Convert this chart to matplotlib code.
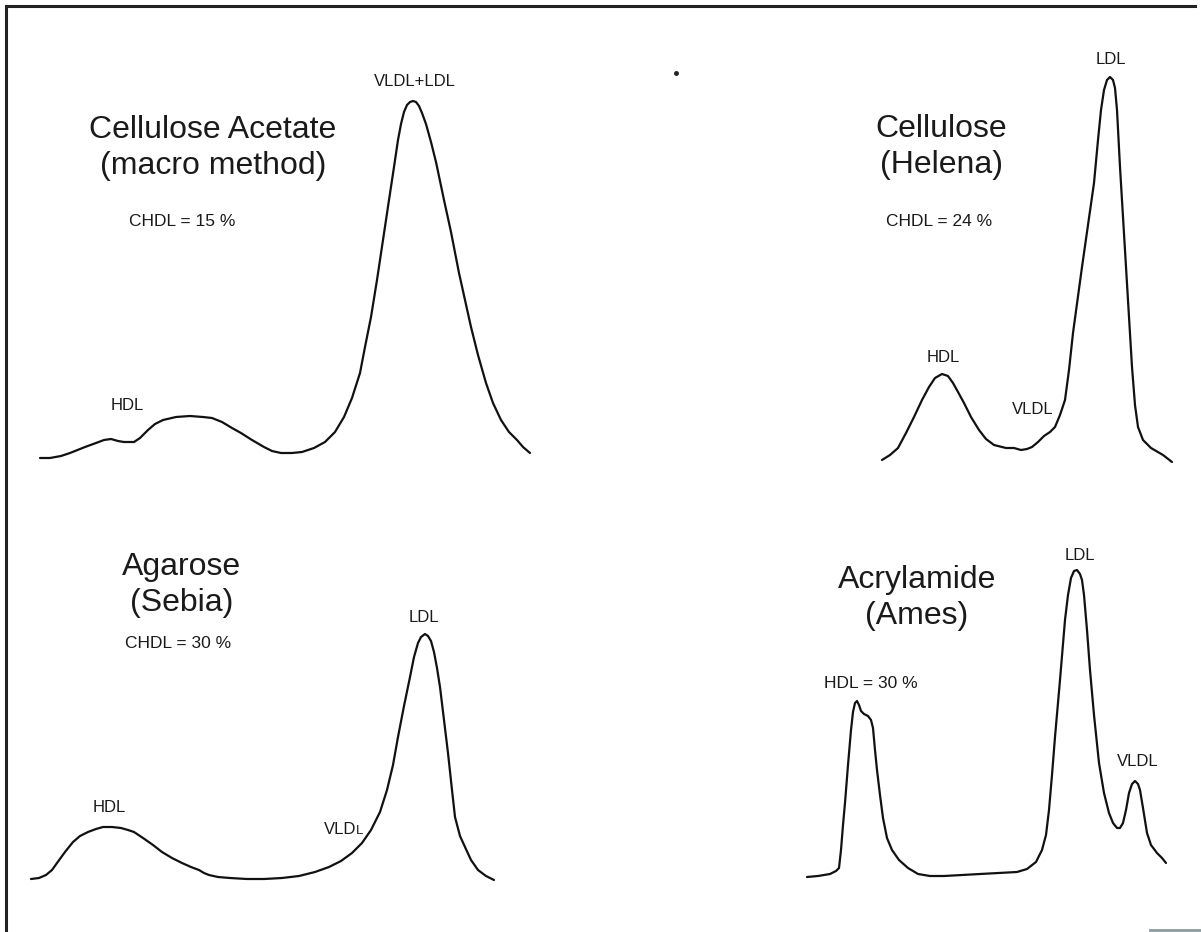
import matplotlib
matplotlib.use("Agg")
import matplotlib.pyplot as plt

plt.rcParams['font.family'] = ['Liberation Sans', 'DejaVu Sans']

# ---- trace data (page coordinates: x to the right, y downward) ----
acetate_x = [40, 50, 61, 70, 85, 96, 104, 111, 118, 124, 134, 140, 148, 155, 163, 176, 190, 203,
             212, 222, 232, 241, 252, 264, 272, 281, 292, 302, 314, 325, 335, 344, 352, 360, 365,
             371, 377, 383, 389, 394, 398, 401, 404, 407, 410, 413, 416, 419, 422, 426, 431, 436,
             444, 451, 459, 465, 471, 478, 486, 493, 501, 509, 517, 523, 530]
acetate_y = [458, 458, 456, 453, 447, 443, 440, 439, 441, 442, 442, 438, 430, 424, 420, 417, 416, 417,
             418, 422, 428, 433, 440, 447, 451, 453, 453, 452, 448, 442, 432, 417, 398, 373, 347,
             317, 280, 240, 200, 167, 140, 124, 112, 105, 102, 101, 102, 106, 113, 124, 142, 162,
             200, 232, 273, 300, 327, 355, 383, 403, 420, 432, 440, 447, 453]

helena_x = [882, 890, 898, 906, 914, 922, 929, 935, 942, 948, 953, 958, 964, 971, 979, 986, 994,
            1006, 1014, 1021, 1027, 1032, 1038, 1044, 1050, 1055, 1060, 1065, 1069, 1073, 1082,
            1088, 1094, 1098, 1101, 1104, 1107, 1110, 1113, 1115, 1117, 1120, 1126, 1132, 1135,
            1138, 1143, 1151, 1163, 1172]
helena_y = [460, 455, 448, 433, 417, 400, 387, 378, 374, 376, 383, 392, 403, 417, 430, 439, 445,
            448, 448, 450, 449, 447, 442, 436, 432, 427, 415, 400, 370, 333, 267,
            225, 183, 140, 110, 90, 80, 77, 80, 88, 110, 167, 267, 367, 405,
            427, 440, 448, 455, 462]

agarose_x = [31, 39, 46, 52, 57, 65, 73, 80, 88, 96, 103, 112, 121, 128, 134, 143, 153, 162, 172,
             182, 191, 199, 204, 209, 218, 230, 247, 264, 282, 299, 315, 329, 341, 352, 362, 371,
             380, 387, 393, 398, 404, 410, 414, 418, 421, 425, 428, 431, 434, 437, 440, 444, 448,
             452, 455, 460, 465, 471, 478, 486, 494]
agarose_y = [879, 878, 875, 870, 863, 852, 842, 836, 832, 829, 827, 827, 828, 830, 832, 838, 845,
             852, 858, 863, 867, 870, 873, 875, 877, 878, 879, 879, 878, 876, 872, 867, 861, 853,
             843, 830, 812, 790, 765, 737, 706, 677, 657, 643, 637, 634, 636, 641, 652, 668, 687,
             720, 753, 790, 817, 836, 847, 860, 870, 876, 880]

ames_x = [807, 818, 830, 836, 839, 841, 843, 845, 848, 851, 853, 855, 857, 859, 861, 864, 868, 871,
          873, 875, 877, 880, 883, 887, 892, 899, 908, 918, 930, 944, 980, 1017, 1027, 1036, 1042,
          1046, 1049, 1052, 1055, 1060, 1065, 1068, 1071, 1074, 1077, 1080, 1082, 1084, 1087,
          1090, 1094, 1099, 1104, 1109, 1113, 1117, 1120, 1123, 1126, 1129, 1132, 1135, 1138,
          1140, 1143, 1147, 1151, 1157, 1162, 1166]
ames_y = [877, 876, 874, 871, 868, 850, 825, 803, 765, 730, 712, 703, 701, 705, 711, 714, 716, 720,
          728, 750, 770, 795, 818, 838, 850, 860, 868, 874, 876, 876, 874, 872, 869, 862, 850,
          835, 810, 775, 737, 680, 620, 595, 578, 571, 570, 574, 580, 595, 630,
          670, 715, 763, 793, 813, 823, 828, 828, 823, 810, 793, 784, 781, 784,
          790, 808, 833, 845, 853, 858, 863]

# ---- text ----
titles = [("Cellulose Acetate\n(macro method)", 213, 148),
          ("Cellulose\n(Helena)", 941, 147),
          ("Agarose\n(Sebia)", 182, 585),
          ("Acrylamide\n(Ames)", 917, 598)]
values = [("CHDL = 15 %", 182, 221),
          ("CHDL = 24 %", 939, 222),
          ("CHDL = 30 %", 178, 643),
          ("HDL = 30 %", 871, 684)]
peak_labels = [("VLDL+LDL", 415, 81), ("HDL", 127, 405),
               ("LDL", 1111, 60), ("HDL", 943, 358), ("VLDL", 1033, 410),
               ("LDL", 424, 618), ("HDL", 109, 808),
               ("LDL", 1080, 555), ("VLDL", 1138, 761)]

W, H = 1201, 932
fig = plt.figure(figsize=(W / 100, H / 100), dpi=100)
ax = fig.add_axes([0, 0, 1, 1])
ax.set_xlim(0, W)
ax.set_ylim(H, 0)
ax.axis('off')

for xs, ys in [(acetate_x, acetate_y), (helena_x, helena_y),
               (agarose_x, agarose_y), (ames_x, ames_y)]:
    ax.plot(xs, ys, color='#111111', lw=1.6, solid_joinstyle='round', solid_capstyle='round')

# frame (top and left edges of the scanned page)
ax.plot([6, 6, 1195], [932, 6, 6], color='#222222', lw=2.2, solid_joinstyle='miter')
ax.plot([1150, 1201], [930, 930], color='#8a9aa0', lw=2)
ax.plot([676], [73], marker='o', ms=2.5, color='#222222')

for txt, x, y in titles:
    ax.text(x, y, txt, ha='center', va='center', fontsize=23, color='#1a1a1a',
            linespacing=1.3)
for txt, x, y in values:
    ax.text(x, y, txt, ha='center', va='center', fontsize=12.5, color='#1a1a1a')
for txt, x, y in peak_labels:
    ax.text(x, y, txt, ha='center', va='center', fontsize=12, color='#1a1a1a')

# agarose "VLDL" label with a small final L, as printed
ax.text(356, 834, "VLD", ha='right', va='baseline', fontsize=12, color='#1a1a1a')
ax.text(356, 834, "L", ha='left', va='baseline', fontsize=9.5, color='#1a1a1a')

fig.savefig('out.png', dpi=100, facecolor='white')
